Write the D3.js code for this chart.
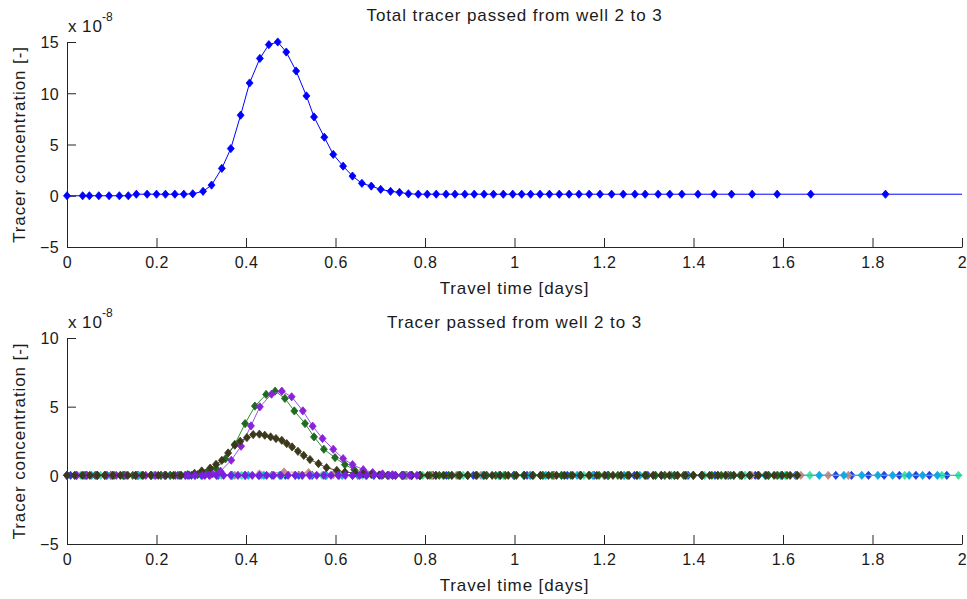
<!DOCTYPE html>
<html>
<head>
<meta charset="utf-8">
<script src="https://cdn.jsdelivr.net/npm/d3@7"></script>
<style>
  body { margin: 0; background: #fff; }
  svg text { font-family: "Liberation Sans", Arial, Helvetica, sans-serif; fill: #1a1a1a; }
</style>
</head>
<body>
<svg id="chart" width="967" height="599"></svg>
<script>
// ---- axis ticks ----
const xTicks = [0, 0.2, 0.4, 0.6, 0.8, 1, 1.2, 1.4, 1.6, 1.8, 2];
const topYTicks = [-5, 0, 5, 10, 15];
const bottomYTicks = [-5, 0, 5, 10];

// ---- total tracer (x 1e-8) ----
const totalDays = [0, 0.035, 0.05, 0.071, 0.094, 0.117, 0.137, 0.155, 0.179, 0.2, 0.22, 0.241, 0.261, 0.281,
  0.304, 0.323, 0.346, 0.366, 0.388, 0.408, 0.431, 0.451, 0.471, 0.490, 0.512, 0.535, 0.552, 0.575, 0.595,
  0.617, 0.638, 0.659, 0.680, 0.701, 0.723, 0.743, 0.763, 0.785, 0.805, 0.825, 0.847, 0.867, 0.889, 0.910,
  0.932, 0.953, 0.975, 0.996, 1.016, 1.036, 1.057, 1.078, 1.100, 1.122, 1.144, 1.167, 1.191, 1.217, 1.243,
  1.269, 1.292, 1.321, 1.347, 1.374, 1.410, 1.446, 1.485, 1.531, 1.587, 1.662, 1.829, 2.08];
const totalConc = [0, 0, 0, 0, 0, 0, 0, 0.15, 0.15, 0.15, 0.15, 0.15, 0.15, 0.19,
  0.43, 1.04, 2.67, 4.6, 7.86, 11.0, 13.4, 14.74, 15.0, 14.02, 12.17, 9.74, 7.69, 5.71, 4.03,
  2.89, 1.92, 1.21, 0.94, 0.62, 0.43, 0.33, 0.19, 0.15, 0.15, 0.15, 0.15, 0.15, 0.15, 0.15,
  0.15, 0.15, 0.15, 0.15, 0.15, 0.15, 0.15, 0.15, 0.15, 0.15, 0.15, 0.15, 0.15, 0.15, 0.15,
  0.15, 0.15, 0.15, 0.15, 0.15, 0.15, 0.15, 0.15, 0.15, 0.15, 0.15, 0.15, 0.15];

// ---- per-path tracer (x 1e-8) ----
const blueDays = [0.008, 0.038, 0.068, 0.098, 0.128, 0.158, 0.188, 0.218, 0.248, 0.278, 0.308, 0.338, 0.368,
  0.398, 0.428, 0.458, 0.488, 0.518, 0.548, 0.578, 0.608, 0.638, 0.668, 0.698, 0.728, 0.758, 0.788, 0.818,
  0.848, 0.878, 0.908, 0.938, 0.968, 0.998, 1.028, 1.058, 1.088, 1.118, 1.148, 1.178, 1.208, 1.238, 1.268,
  1.298, 1.328, 1.358, 1.388, 1.418, 1.448, 1.478, 1.508, 1.538, 1.568, 1.598, 1.628, 1.718, 1.753, 1.791,
  1.826, 1.860, 1.897, 1.927, 1.966];
const blueConc = [0, 0, 0, 0, 0, 0, 0, 0, 0, 0, 0, 0, 0,
  0, 0, 0, 0, 0, 0, 0, 0, 0, 0, 0, 0, 0, 0, 0,
  0, 0, 0, 0, 0, 0, 0, 0, 0, 0, 0, 0, 0, 0, 0,
  0, 0, 0, 0, 0, 0, 0, 0, 0, 0, 0, 0, 0, 0, 0,
  0, 0, 0, 0, 0];

const cyanDays = [0.02, 0.055, 0.09, 0.125, 0.16, 0.195, 0.23, 0.265, 0.30, 0.335, 0.37, 0.405, 0.44, 0.475,
  0.51, 0.545, 0.58, 0.615, 0.65, 0.685, 0.72, 0.755, 0.79, 0.825, 0.86, 0.895, 0.93, 0.965, 1.0, 1.035,
  1.07, 1.105, 1.14, 1.175, 1.21, 1.245, 1.28, 1.315, 1.35, 1.385, 1.42, 1.455, 1.49, 1.525, 1.56, 1.595,
  1.63, 1.681, 1.736, 1.776, 1.812, 1.845, 1.882, 1.912, 1.945, 2.06];
const cyanConc = [0, 0, 0, 0, 0, 0, 0, 0, 0, 0, 0, 0, 0, 0,
  0, 0, 0, 0, 0, 0, 0, 0, 0, 0, 0, 0, 0, 0, 0, 0,
  0, 0, 0, 0, 0, 0, 0, 0, 0, 0, 0, 0, 0, 0, 0, 0,
  0, 0, 0, 0, 0, 0, 0, 0, 0, 0];

const springDays = [0.03, 0.075, 0.12, 0.165, 0.21, 0.255, 0.30, 0.345, 0.39, 0.435, 0.48, 0.525, 0.57, 0.615,
  0.66, 0.705, 0.75, 0.795, 0.84, 0.885, 0.93, 0.975, 1.02, 1.065, 1.11, 1.155, 1.20, 1.245, 1.29, 1.335,
  1.38, 1.425, 1.47, 1.515, 1.56, 1.605, 1.660, 1.872, 1.955, 1.992];
const springConc = [0, 0, 0, 0, 0, 0, 0, 0, 0, 0, 0, 0, 0, 0,
  0, 0, 0, 0, 0, 0, 0, 0, 0, 0, 0, 0, 0, 0, 0, 0,
  0, 0, 0, 0, 0, 0, 0, 0, 0, 0];

const roseDays = [0.045, 0.1, 0.155, 0.21, 0.265, 0.32, 0.375, 0.43, 0.485, 0.54, 0.595, 0.65, 0.705, 0.76,
  0.815, 0.87, 0.925, 0.98, 1.035, 1.09, 1.145, 1.2, 1.255, 1.31, 1.365, 1.42, 1.475, 1.53, 1.585, 1.64,
  1.701, 1.746];
const roseConc = [0, 0, 0, 0, 0, 0, 0, 0.1, 0.25, 0.2, 0.05, 0, 0, 0,
  0, 0, 0, 0, 0, 0, 0, 0, 0, 0, 0, 0, 0, 0, 0, 0,
  0, 0];

const greenDays = [0, 0.021, 0.042, 0.063, 0.084, 0.105, 0.126, 0.147, 0.168, 0.189, 0.210, 0.231, 0.252,
  0.273, 0.292, 0.312, 0.333, 0.354, 0.375, 0.398, 0.420, 0.445, 0.465, 0.487, 0.508, 0.532, 0.552, 0.574,
  0.599, 0.621, 0.642, 0.665, 0.685, 0.706, 0.727, 0.748, 0.769, 0.790, 0.811, 0.832, 0.853, 0.874, 0.895,
  0.916, 0.937, 0.958, 0.979, 1.0, 1.021, 1.042, 1.063, 1.084, 1.105, 1.126, 1.147, 1.168, 1.189, 1.210,
  1.231, 1.252, 1.273, 1.294, 1.315, 1.336, 1.357, 1.378, 1.399, 1.420, 1.441, 1.462, 1.483, 1.504, 1.525,
  1.546, 1.567, 1.588, 1.609];
const greenConc = [0, 0, 0, 0, 0, 0, 0, 0, 0, 0, 0, 0, 0,
  0, 0.05, 0.2, 0.5, 1.2, 2.26, 3.77, 5.04, 5.89, 6.13, 5.6, 4.69, 3.77, 2.8, 1.9,
  1.29, 0.78, 0.41, 0.2, 0.1, 0.04, 0, 0, 0, 0, 0, 0, 0, 0, 0,
  0, 0, 0, 0, 0, 0, 0, 0, 0, 0, 0, 0, 0, 0, 0,
  0, 0, 0, 0, 0, 0, 0, 0, 0, 0, 0, 0, 0, 0, 0,
  0, 0, 0, 0];

const purpleDays = [0, 0.022, 0.044, 0.066, 0.088, 0.110, 0.132, 0.154, 0.176, 0.198, 0.220, 0.242, 0.264,
  0.286, 0.308, 0.325, 0.343, 0.367, 0.389, 0.411, 0.431, 0.457, 0.480, 0.502, 0.527, 0.549, 0.571, 0.595,
  0.617, 0.638, 0.662, 0.683, 0.705, 0.727, 0.749, 0.771];
const purpleConc = [0, 0, 0, 0, 0, 0, 0, 0, 0, 0, 0, 0, 0,
  0, 0.03, 0.1, 0.3, 1.1, 2.12, 3.6, 4.99, 5.91, 6.13, 5.72, 4.7, 3.58, 2.68, 1.9,
  1.22, 0.78, 0.41, 0.2, 0.1, 0.04, 0, 0];

const oliveDays = [0, 0.017, 0.034, 0.051, 0.068, 0.085, 0.102, 0.119, 0.136, 0.153, 0.170, 0.187, 0.204,
  0.221, 0.238, 0.255, 0.270, 0.285, 0.301, 0.320, 0.333, 0.346, 0.360, 0.375, 0.387, 0.402, 0.416, 0.430,
  0.442, 0.455, 0.467, 0.480, 0.491, 0.503, 0.516, 0.529, 0.543, 0.562, 0.580, 0.603, 0.621, 0.644, 0.662,
  0.680, 0.698, 0.716, 0.734, 0.752, 0.770, 0.788, 0.806, 0.824, 0.842, 0.860, 0.878, 0.896, 0.914, 0.932,
  0.950, 0.968, 0.986, 1.004, 1.022, 1.040, 1.058, 1.076, 1.094, 1.112, 1.130, 1.148, 1.166, 1.184, 1.202,
  1.220, 1.238, 1.256, 1.274, 1.292, 1.310, 1.328, 1.346, 1.364, 1.382, 1.400, 1.418, 1.436, 1.454, 1.472,
  1.490, 1.508, 1.526, 1.544, 1.562, 1.580, 1.598, 1.616, 1.632];
const oliveConc = [0, 0, 0, 0, 0, 0, 0, 0, 0, 0, 0, 0, 0,
  0, 0, 0, 0.05, 0.15, 0.32, 0.53, 0.8, 1.09, 1.63, 2.19, 2.48, 2.75, 2.97, 3.0,
  2.92, 2.8, 2.68, 2.55, 2.31, 2.07, 1.75, 1.45, 1.15, 0.85, 0.56, 0.36, 0.24, 0.17, 0.1,
  0.06, 0.03, 0, 0, 0, 0, 0, 0, 0, 0, 0, 0, 0, 0, 0,
  0, 0, 0, 0, 0, 0, 0, 0, 0, 0, 0, 0, 0, 0, 0,
  0, 0, 0, 0, 0, 0, 0, 0, 0, 0, 0, 0, 0, 0, 0,
  0, 0, 0, 0, 0, 0, 0, 0, 0];

const violetDays = [0.27, 0.286, 0.302, 0.318, 0.334, 0.350, 0.366, 0.382, 0.398, 0.414, 0.430, 0.446, 0.462,
  0.478, 0.494, 0.510, 0.526, 0.542, 0.558, 0.574, 0.590, 0.606, 0.622, 0.638, 0.654, 0.670, 0.686, 0.702,
  0.718, 0.734, 0.750, 0.766, 0.782];
const violetConc = [0, 0, 0, 0, 0, 0, 0, 0, 0, 0, 0, 0, 0,
  0, 0, 0, 0, 0, 0, 0, 0, 0, 0, 0, 0, 0, 0, 0,
  0, 0, 0, 0, 0];

// drawing order: first listed is drawn underneath
const pathSeries = [
  { days: blueDays,   conc: blueConc,   marker: "#1f3ce6", line: "#3a66f0" },
  { days: springDays, conc: springConc, marker: "#3de6a0", line: "#5ae8b4" },
  { days: roseDays,   conc: roseConc,   marker: "#c88c84", line: "#d29a8e" },
  { days: cyanDays,   conc: cyanConc,   marker: "#14a8e0", line: "#22b4e6" },
  { days: greenDays,  conc: greenConc,  marker: "#1e6a1e", line: "#2f8f2f" },
  { days: purpleDays, conc: purpleConc, marker: "#8a22d8", line: "#a050e8" },
  { days: oliveDays,  conc: oliveConc,  marker: "#3b381c", line: "#4a4626" },
  { days: violetDays, conc: violetConc, marker: "#7a1ee0", line: "#8a3ce6" }
];

// ---- layout ----
const svg = d3.select("#chart");
const xLeft = 67, xRight = 962;
const axisColor = "#262626";
const labelFont = { size: 17, spacing: "0.9px" };

const x = d3.scaleLinear().domain([0, 2]).range([xLeft, xRight]);
const yTop = d3.scaleLinear().domain([-5, 15]).range([247, 42]);
const yBottom = d3.scaleLinear().domain([-5, 10]).range([544, 338]);

const diamond = "M0,-4.1L3.5,0L0,4.1L-3.5,0Z";

function label(g, text) {
  return g.append("text").attr("font-size", labelFont.size)
    .style("letter-spacing", labelFont.spacing).text(text);
}

function drawPanel(y, yTicks, title, titleGap, clipId) {
  const g = svg.append("g");
  const [yMin, yMax] = y.range();

  g.append("clipPath").attr("id", clipId)
    .append("rect").attr("x", xLeft).attr("y", yMax)
    .attr("width", xRight - xLeft).attr("height", yMin - yMax);

  const xAxis = d3.axisBottom(x).tickValues(xTicks)
    .tickFormat(d3.format("~g")).tickSizeInner(-9).tickSizeOuter(0).tickPadding(10);
  const gx = g.append("g").attr("transform", `translate(0,${yMin})`).call(xAxis);

  const yAxis = d3.axisLeft(y).tickValues(yTicks)
    .tickFormat(d3.format("~g")).tickSizeInner(-9).tickSizeOuter(0).tickPadding(8);
  const gy = g.append("g").attr("transform", `translate(${xLeft},0)`).call(yAxis);

  [gx, gy].forEach(a => {
    a.selectAll("path.domain").attr("stroke", axisColor).attr("stroke-width", 1);
    a.selectAll("line").attr("stroke", axisColor);
    a.selectAll("text").attr("font-size", 16).attr("fill", "#1a1a1a")
      .style("letter-spacing", "0.4px")
      .style("font-family", '"Liberation Sans", Arial, sans-serif');
  });
  gy.selectAll("text").attr("dy", "0.36em");

  // exponent label
  const base = yMax - 10;
  g.append("text").attr("x", xLeft + 1).attr("y", base).attr("font-size", 17).text("x");
  g.append("text").attr("x", xLeft + 15).attr("y", base).attr("font-size", 17)
    .style("letter-spacing", "1px").text("10");
  g.append("text").attr("x", xLeft + 35).attr("y", base - 11).attr("font-size", 12).text("-8");

  label(g, title).attr("x", (xLeft + xRight) / 2).attr("y", yMax - titleGap)
    .attr("text-anchor", "middle");

  label(g, "Travel time [days]").attr("x", (xLeft + xRight) / 2).attr("y", yMin + 47)
    .attr("text-anchor", "middle");

  label(g, "Tracer concentration [-]")
    .attr("transform", `translate(25,${(yMin + yMax) / 2}) rotate(-90)`)
    .attr("text-anchor", "middle");

  return g;
}

function drawSeries(g, y, clipId, days, conc, markerColor, lineColor) {
  const pts = days.map((d, i) => [d, conc[i]]);
  const line = d3.line().x(p => x(p[0])).y(p => y(p[1]));
  g.append("path").attr("d", line(pts)).attr("fill", "none")
    .attr("stroke", lineColor).attr("stroke-width", 1)
    .attr("clip-path", `url(#${clipId})`);
  g.append("g").selectAll("path").data(pts.filter(p => p[0] <= 2)).join("path")
    .attr("d", diamond)
    .attr("transform", p => `translate(${x(p[0])},${y(p[1])})`)
    .attr("fill", markerColor).attr("stroke", markerColor).attr("stroke-width", 0.8);
}

const topPanel = drawPanel(yTop, topYTicks, "Total tracer passed from well 2 to 3", 21, "clipTop");
drawSeries(topPanel, yTop, "clipTop", totalDays, totalConc, "#0000ff", "#0000ff");

const bottomPanel = drawPanel(yBottom, bottomYTicks, "Tracer passed from well 2 to 3", 10, "clipBottom");
pathSeries.forEach(s => drawSeries(bottomPanel, yBottom, "clipBottom", s.days, s.conc, s.marker, s.line));
</script>
</body>
</html>
